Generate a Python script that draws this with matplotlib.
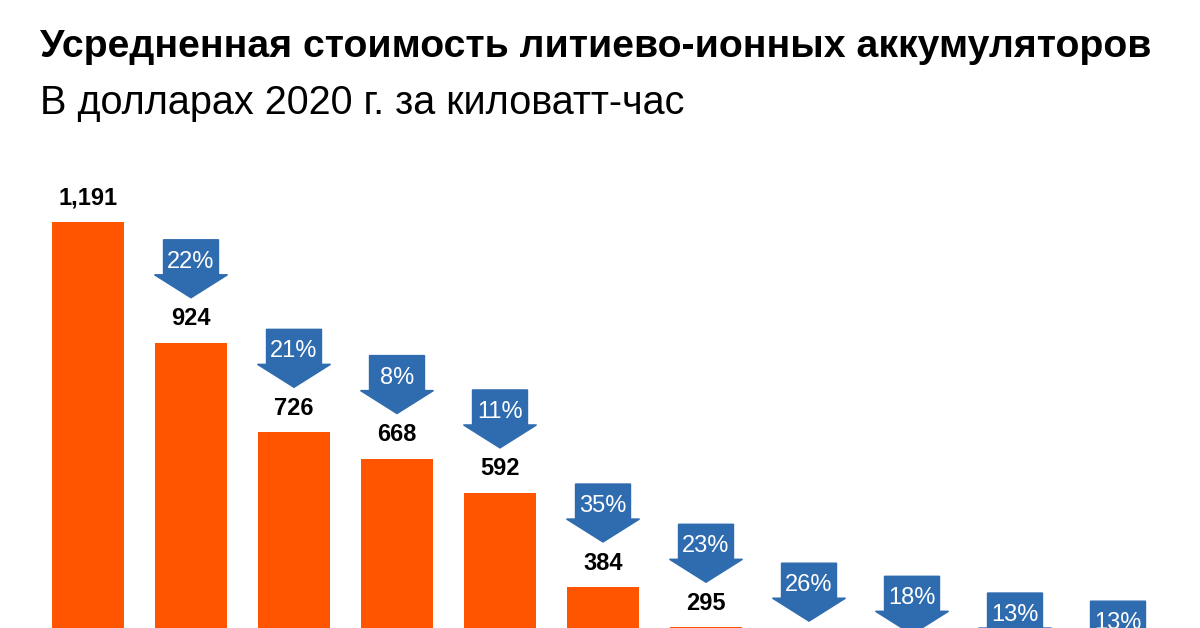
import numpy as np
import matplotlib
matplotlib.use("Agg")
import matplotlib.pyplot as plt
from matplotlib.patches import Polygon

plt.rcParams['font.family'] = ['Liberation Sans', 'DejaVu Sans']

# данные (последние четыре столбца за кадром, оценены по стрелкам)
years = [2010, 2011, 2012, 2013, 2014, 2015, 2016, 2017, 2018, 2019, 2020]
values = [1191, 924, 726, 668, 592, 384, 295, 209, 180, 143, 125]
value_labels = ["1,191", "924", "726", "668", "592", "384", "295", "", "", "", ""]
drops = ["", "22%", "21%", "8%", "11%", "35%", "23%", "26%", "18%", "13%", "13%"]

ORANGE = "#FF5500"
BLUE = "#2F6BAF"

W, H = 1200, 628
fig = plt.figure(figsize=(12, 6.28), dpi=100)
ax = fig.add_axes([0, 0, 1, 1])

# масштаб: 1 единица x = один столбец (103 px), y - доллары
px_x = 103.0
px_y = 0.4523
x0_px = 88
base_px = 760.7  # уровень нуля, ниже края картинки
ax.set_xlim(-x0_px / px_x, (W - x0_px) / px_x)
ax.set_ylim((base_px - H) / px_y, base_px / px_y)
ax.axis("off")

x = np.arange(len(values))
ax.bar(x, values, width=72 / px_x, color=ORANGE, zorder=2)

ux = 1 / px_x
uy = 1 / px_y
for i, v in enumerate(values):
    if value_labels[i]:
        ax.annotate(value_labels[i], (i, v), xytext=(0, 9), textcoords="offset points",
                    ha="center", va="bottom", fontsize=17, fontweight="bold", color="black")
    if drops[i]:
        top = v + 103 * uy
        body = v + 68 * uy
        tip = v + 45 * uy
        bw = 27.5 * ux
        hw = 36.5 * ux
        pts = [(i - bw, top), (i + bw, top), (i + bw, body), (i + hw, body),
               (i, tip), (i - hw, body), (i - bw, body)]
        ax.add_patch(Polygon(pts, closed=True, color=BLUE, zorder=3))
        ax.text(i, v + 81 * uy, drops[i], ha="center", va="center",
                fontsize=17, color="white", zorder=4)

fig.text(40 / W, 1 - 57 / H, "Усредненная стоимость литиево-ионных аккумуляторов",
         ha="left", va="baseline", fontsize=28.3, fontweight="bold", color="black")
fig.text(40 / W, 1 - 114 / H, "В долларах 2020 г. за киловатт-час",
         ha="left", va="baseline", fontsize=28.5, color="black")

fig.savefig("out.png", dpi=100)
